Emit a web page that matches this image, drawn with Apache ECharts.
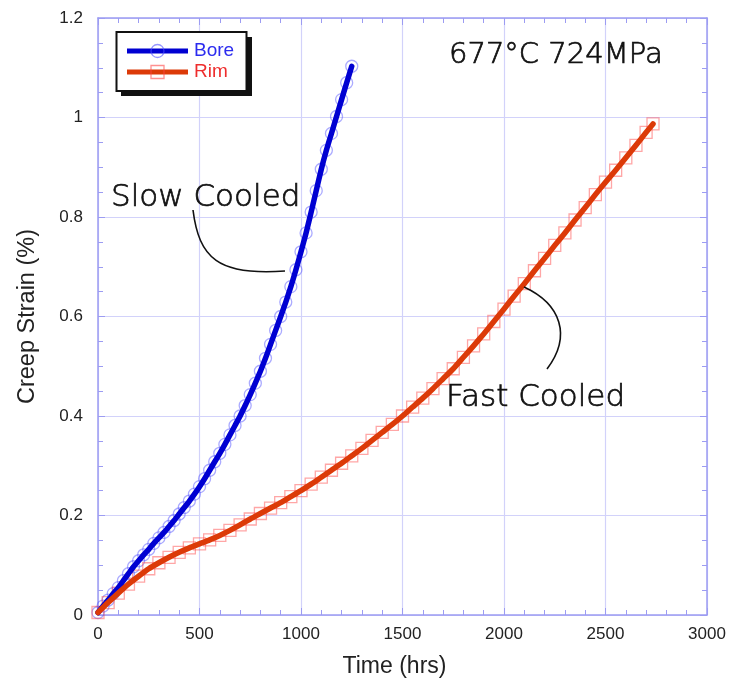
<!DOCTYPE html>
<html>
<head>
<meta charset="utf-8">
<title>Creep Strain vs Time</title>
<script src="https://cdn.jsdelivr.net/npm/echarts/dist/echarts.min.js"></script>
<style>
  html, body { margin: 0; padding: 0; background: #ffffff; }
  #chart { width: 731px; height: 687px; }
</style>
</head>
<body>
<div id="chart"></div>
<script>
// ---- data -------------------------------------------------------------
const seriesNames = ['Bore', 'Rim'];

// Bore (slow cooled) creep curve: hours, strain %
const boreHours = [
  0, 25, 50, 75, 100, 125, 150, 175, 200, 225, 250, 275, 300, 325, 350, 375,
  400, 425, 450, 475, 500, 525, 550, 575, 600, 625, 650, 675, 700, 725, 750,
  775, 800, 825, 850, 875, 900, 925, 950, 975, 1000, 1025, 1050, 1075, 1100,
  1125, 1150, 1175, 1200, 1225, 1250
];
const boreStrain = [
  0.005, 0.018, 0.030, 0.043, 0.055, 0.069, 0.083, 0.097, 0.109, 0.121, 0.132,
  0.144, 0.155, 0.166, 0.178, 0.190, 0.203, 0.216, 0.229, 0.243, 0.258, 0.274,
  0.291, 0.308, 0.325, 0.343, 0.362, 0.381, 0.400, 0.421, 0.443, 0.466, 0.490,
  0.516, 0.544, 0.572, 0.600, 0.629, 0.660, 0.694, 0.730, 0.768, 0.810, 0.853,
  0.896, 0.934, 0.968, 1.002, 1.036, 1.070, 1.103
];

// Rim (fast cooled) creep curve: hours, strain %
const rimHours = [
  0, 50, 100, 150, 200, 250, 300, 350, 400, 450, 500, 550, 600, 650, 700, 750,
  800, 850, 900, 950, 1000, 1050, 1100, 1150, 1200, 1250, 1300, 1350, 1400,
  1450, 1500, 1550, 1600, 1650, 1700, 1750, 1800, 1850, 1900, 1950, 2000, 2050,
  2100, 2150, 2200, 2250, 2300, 2350, 2400, 2450, 2500, 2550, 2600, 2650, 2700,
  2734
];
const rimStrain = [
  0.005, 0.025, 0.044, 0.062, 0.078, 0.093, 0.105, 0.116, 0.126, 0.135, 0.143,
  0.151, 0.160, 0.170, 0.181, 0.193, 0.204, 0.215, 0.226, 0.238, 0.250, 0.263,
  0.277, 0.291, 0.305, 0.320, 0.335, 0.351, 0.367, 0.383, 0.400, 0.418, 0.436,
  0.455, 0.475, 0.495, 0.518, 0.541, 0.565, 0.590, 0.615, 0.641, 0.666, 0.692,
  0.717, 0.743, 0.768, 0.794, 0.819, 0.845, 0.870, 0.894, 0.919, 0.944, 0.970,
  0.987
];

// axis ranges and tick steps
const timeRange = [0, 3000];
const timeStep = 500;
const strainRange = [0, 1.2];
const strainStep = 0.2;

const chartTitle = '677°C 724MPa';
const annotations = ['Slow Cooled', 'Fast Cooled'];
const xAxisTitle = 'Time (hrs)';
const yAxisTitle = 'Creep Strain (%)';

// ---- styling ------------------------------------------------------------
const frameColor = '#9c9cf2';
const gridColor = '#d2d2fa';
const boreColor = '#0000d2';
const rimColor = '#dc3a08';
const boreMarker = 'rgba(80, 80, 255, 0.6)';
const rimMarker = 'rgba(255, 70, 70, 0.6)';
const sansFont = '"Liberation Sans", Arial, Helvetica, sans-serif';
const noteFont = '"DejaVu Sans", sans-serif';

const zip = (xs, ys) => xs.map((x, i) => [x, ys[i]]);
const plainNumber = v => String(+v.toFixed(6));

function valueAxis(range, step, minorSplit, position, showLabels, extra) {
  return Object.assign({
    type: 'value',
    position: position,
    min: range[0],
    max: range[1],
    interval: step,
    axisLine: { show: true, onZero: false, lineStyle: { color: frameColor, width: 1.5 } },
    axisTick: { show: true, inside: true, length: 7, lineStyle: { color: frameColor, width: 1 } },
    minorTick: { show: true, splitNumber: minorSplit, length: 5, lineStyle: { color: frameColor, width: 1 } },
    splitLine: { show: showLabels, lineStyle: { color: gridColor, width: 1.2 } },
    minorSplitLine: { show: false },
    axisLabel: { show: false }
  }, extra || {});
}

// annotation text: light face with a hairline stroke for a medium-thin look
function noteText(text, x, y, size) {
  return {
    type: 'text', z: 12, x: x, y: y,
    style: {
      text: text, fill: '#111111', stroke: '#111111', lineWidth: 0.7,
      font: '200 ' + size + 'px ' + noteFont, verticalAlign: 'top'
    }
  };
}

const chart = echarts.init(document.getElementById('chart'), null, { renderer: 'canvas' });

const option = {
  backgroundColor: '#ffffff',
  animation: false,
  grid: {
    left: 98, top: 18, right: 24, bottom: 72,
    containLabel: false,
    outerBoundsMode: 'none'
  },
  xAxis: [
    valueAxis(timeRange, timeStep, 5, 'bottom', true, {
      name: xAxisTitle,
      nameLocation: 'middle',
      nameGap: 40,
      nameTextStyle: { fontFamily: sansFont, fontSize: 23, color: '#222222', padding: [0, 16, 0, 0] },
      axisLabel: { show: true, fontFamily: sansFont, fontSize: 17, color: '#222222', margin: 11, formatter: plainNumber }
    }),
    valueAxis(timeRange, timeStep, 5, 'top', false)
  ],
  yAxis: [
    valueAxis(strainRange, strainStep, 4, 'left', true, {
      name: yAxisTitle,
      nameLocation: 'middle',
      nameGap: 58,
      nameRotate: 90,
      nameTextStyle: { fontFamily: sansFont, fontSize: 23.5, color: '#222222' },
      axisLabel: { show: true, fontFamily: sansFont, fontSize: 17, color: '#222222', margin: 15, formatter: plainNumber }
    }),
    valueAxis(strainRange, strainStep, 4, 'right', false)
  ],
  series: [
    {
      name: seriesNames[0] + ' markers',
      type: 'scatter',
      data: zip(boreHours, boreStrain),
      symbol: 'circle',
      symbolSize: 12,
      itemStyle: { color: 'rgba(0,0,0,0)', borderColor: boreMarker, borderWidth: 1.3 },
      z: 2,
      silent: true
    },
    {
      name: seriesNames[1] + ' markers',
      type: 'scatter',
      data: zip(rimHours, rimStrain),
      symbol: 'rect',
      symbolSize: 12,
      itemStyle: { color: 'rgba(0,0,0,0)', borderColor: rimMarker, borderWidth: 1.3 },
      z: 2,
      silent: true
    },
    {
      name: seriesNames[0],
      type: 'line',
      data: zip(boreHours, boreStrain),
      showSymbol: false,
      smooth: 0.2,
      lineStyle: { color: boreColor, width: 5.5, cap: 'round', join: 'round' },
      z: 3
    },
    {
      name: seriesNames[1],
      type: 'line',
      data: zip(rimHours, rimStrain),
      showSymbol: false,
      smooth: 0.2,
      lineStyle: { color: rimColor, width: 5.5, cap: 'round', join: 'round' },
      z: 3
    }
  ],
  graphic: [
    // legend box with drop shadow
    { type: 'rect', z: 10, shape: { x: 121, y: 37, width: 131, height: 59 }, style: { fill: '#111111' } },
    { type: 'rect', z: 11, shape: { x: 116.5, y: 32, width: 130, height: 59 },
      style: { fill: '#ffffff', stroke: '#111111', lineWidth: 2 } },
    { type: 'line', z: 12, shape: { x1: 127, y1: 51, x2: 188, y2: 51 },
      style: { stroke: boreColor, lineWidth: 5 } },
    { type: 'circle', z: 13, shape: { cx: 157.5, cy: 51, r: 6.5 },
      style: { fill: 'none', stroke: boreMarker, lineWidth: 1.3 } },
    { type: 'text', z: 13, x: 194, y: 51,
      style: { text: seriesNames[0], fill: '#2b2bef', font: '19px ' + sansFont, verticalAlign: 'middle' } },
    { type: 'line', z: 12, shape: { x1: 127, y1: 72, x2: 188, y2: 72 },
      style: { stroke: rimColor, lineWidth: 5 } },
    { type: 'rect', z: 13, shape: { x: 151, y: 65.5, width: 13, height: 13 },
      style: { fill: 'none', stroke: rimMarker, lineWidth: 1.3 } },
    { type: 'text', z: 13, x: 194, y: 72,
      style: { text: seriesNames[1], fill: '#ee2d2d', font: '19px ' + sansFont, verticalAlign: 'middle' } },

    // test condition label
    noteText(chartTitle, 449, 41, 29),

    // callouts
    noteText(annotations[0], 111, 182, 31),
    { type: 'bezierCurve', z: 12,
      shape: { x1: 193, y1: 210, cpx1: 199, cpy1: 258, cpx2: 218, cpy2: 276, x2: 285, y2: 271 },
      style: { stroke: '#111111', lineWidth: 1.6, fill: 'none' } },
    noteText(annotations[1], 446, 382, 31),
    { type: 'bezierCurve', z: 12,
      shape: { x1: 524, y1: 287, cpx1: 561, cpy1: 304, cpx2: 572, cpy2: 336, x2: 547, y2: 369 },
      style: { stroke: '#111111', lineWidth: 1.6, fill: 'none' } }
  ]
};

chart.setOption(option);
</script>
</body>
</html>
